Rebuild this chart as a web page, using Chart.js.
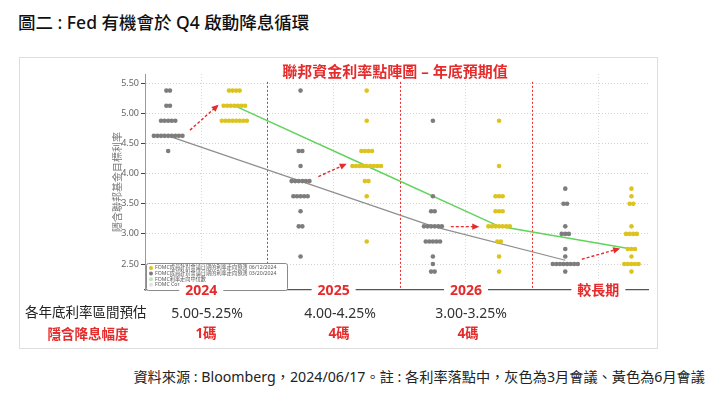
<!DOCTYPE html>
<html>
<head>
<meta charset="utf-8">
<script src="https://cdn.jsdelivr.net/npm/chart.js@4.4.1/dist/chart.umd.min.js"></script>
<style>
  body { margin: 0; background: #fff; font-family: "Noto Sans", "Noto Sans CJK TC", sans-serif; }
  #page { position: relative; width: 725px; height: 401px; overflow: hidden; }
  .txt { position: absolute; white-space: nowrap; line-height: 1; }
  .mid { transform: translate(-50%, -50%); }
  .left { transform: translate(0, -50%); }
  #title { left: 18px; top: 23px; font-size: 17.5px; font-weight: 500; color: #111; }
  #panel { position: absolute; left: 19px; top: 57px; width: 637px; height: 290px; border: 1px solid #dedede; }
  #chartBox { position: absolute; left: 95px; top: 60px; width: 560px; height: 245px; }
  #chartTitle { left: 395px; top: 71px; font-size: 15px; font-weight: 700; color: #e52b2b; }
  .row1 { font-size: 14px; color: #333; }
  .row2 { font-size: 13.5px; color: #e52b2b; font-weight: 700; }
  #source { right: 20px; top: 377px; font-size: 14.2px; color: #222; }
</style>
</head>
<body>
<div id="page">
  <div class="txt left" id="title">圖二 : Fed 有機會於 Q4 啟動降息循環</div>
  <div id="panel"></div>
  <div id="chartBox"><canvas id="dotChart"></canvas></div>
  <div class="txt mid" id="chartTitle">聯邦資金利率點陣圖 – 年底預期值</div>
  <div class="txt left" id="source">資料來源 : Bloomberg，2024/06/17。註 : 各利率落點中，灰色為3月會議、黃色為6月會議</div>
</div>
<script>
const yearLabels = ["2024", "2025", "2026", "較長期"];
const yearPos = [0.5, 2.5, 4.5, 6.5];
const yTicks = [2.5, 3.0, 3.5, 4.0, 4.5, 5.0, 5.5];

// [rate, number of participants]  gray = March meeting, yellow = June meeting
const march2024 = [[5.375, 2], [5.125, 2], [4.875, 5], [4.625, 9], [4.375, 1]];
const march2025 = [[5.375, 1], [4.375, 2], [4.125, 1], [3.875, 6], [3.625, 5], [3.375, 1], [3.125, 2], [2.625, 1]];
const march2026 = [[4.875, 1], [3.625, 1], [3.375, 2], [3.125, 6], [2.875, 5], [2.625, 1], [2.5, 1], [2.375, 2]];
const marchLonger = [[3.75, 1], [3.5, 2], [3.125, 1], [3.0, 3], [2.75, 1], [2.625, 1], [2.5, 8], [2.375, 1]];

const june2024 = [[5.375, 4], [5.125, 7], [4.875, 8]];
const june2025 = [[5.375, 1], [4.875, 1], [4.375, 4], [4.125, 9], [3.875, 2], [3.625, 1], [2.875, 1]];
const june2026 = [[4.875, 1], [4.125, 1], [3.625, 3], [3.375, 3], [3.125, 7], [2.875, 2], [2.625, 1], [2.375, 1]];
const juneLonger = [[3.75, 1], [3.625, 1], [3.5, 2], [3.125, 1], [3.0, 4], [2.75, 3], [2.625, 1], [2.5, 5], [2.375, 1]];

const marchMedian = [4.625, 3.875, 3.125, 2.5625];
const juneMedian = [5.125, 4.125, 3.125, 2.75];

// red dashed arrows, [from, to] in chart units
const arrows = [
  [[0.33, 4.72], [0.74, 5.12]],
  [[2.27, 3.95], [2.67, 4.15]],
  [[4.27, 3.12], [4.67, 3.12]],
  [[6.25, 2.58], [6.8, 2.75]],
];
const separators = [1.5, 3.5, 5.5];

const rangeLabels = ["5.00-5.25%", "4.00-4.25%", "3.00-3.25%"];
const cutLabels = ["1碼", "4碼", "4碼"];
const legendLabels = [
  ["#dcc31e", "FOMC成員針對會議日期的利率走向預測 06/12/2024"],
  ["#7d7d7d", "FOMC成員針對會議日期的利率走向預測 03/20/2024"],
  ["#bfe8b8", "FOMC利率走向中位數"],
  ["#e4e4e4", "FOMC Compar"],
];

const RED = "#e52b2b";
const GRAY = "#7d7d7d";
const YELLOW = "#dcc31e";
const GREEN = "#62d35c";
const DOT_GAP = 0.054;
const FONT = "'Noto Sans', 'Noto Sans CJK TC', sans-serif";

function spreadDots(groups, col) {
  const pts = [];
  groups.forEach(([rate, n]) => {
    for (let i = 0; i < n; i++) {
      pts.push({ x: col + (i - (n - 1) / 2) * DOT_GAP, y: rate });
    }
  });
  return pts;
}

const marchDots = [march2024, march2025, march2026, marchLonger].flatMap((g, i) => spreadDots(g, i * 2));
const juneDots = [june2024, june2025, june2026, juneLonger].flatMap((g, i) => spreadDots(g, i * 2 + 1));

const overlay = {
  id: "overlay",
  // red dotted separators between the years
  beforeDatasetsDraw(chart) {
    const { ctx, chartArea, scales: { x, y } } = chart;
    ctx.save();
    ctx.strokeStyle = RED;
    ctx.lineWidth = 1;
    ctx.setLineDash([2, 2]);
    separators.forEach((v) => {
      const px = Math.round(x.getPixelForValue(v)) + 0.5;
      ctx.beginPath();
      ctx.moveTo(px, y.getPixelForValue(5.52));
      ctx.lineTo(px, chartArea.bottom);
      ctx.stroke();
    });
    ctx.restore();
  },
  // arrow heads
  afterDatasetsDraw(chart) {
    const ctx = chart.ctx;
    chart.data.datasets.forEach((ds, i) => {
      if (!ds.arrow) return;
      const pts = chart.getDatasetMeta(i).data;
      const a = pts[0], b = pts[pts.length - 1];
      const ang = Math.atan2(b.y - a.y, b.x - a.x);
      ctx.save();
      ctx.fillStyle = RED;
      ctx.translate(b.x, b.y);
      ctx.rotate(ang);
      ctx.beginPath();
      ctx.moveTo(2, 0);
      ctx.lineTo(-5, -3.2);
      ctx.lineTo(-5, 3.2);
      ctx.closePath();
      ctx.fill();
      ctx.restore();
    });
  },
  // legend box in the lower left corner, then the year labels sitting on the x axis line
  afterDraw(chart) {
    const { ctx, chartArea, scales: { x } } = chart;
    const lx = chartArea.left + 1, ly = chartArea.bottom - 27, lw = 141, lh = 27;
    ctx.save();
    ctx.fillStyle = "#fff";
    ctx.strokeStyle = "#8a8a8a";
    ctx.lineWidth = 1;
    ctx.beginPath();
    ctx.roundRect(lx + 0.5, ly + 0.5, lw, lh, 2);
    ctx.fill();
    ctx.stroke();
    ctx.font = "5.2px " + FONT;
    ctx.textBaseline = "middle";
    legendLabels.forEach(([c, t], i) => {
      const ry = ly + 5 + i * 5.6;
      ctx.beginPath();
      ctx.arc(lx + 5, ry, 2, 0, Math.PI * 2);
      ctx.fillStyle = c;
      ctx.fill();
      ctx.fillStyle = "#555";
      ctx.fillText(t, lx + 9, ry);
    });

    ctx.font = "bold 14px " + FONT;
    ctx.textAlign = "center";
    yearLabels.forEach((t, i) => {
      const px = x.getPixelForValue(yearPos[i]);
      const w = ctx.measureText(t).width + 12;
      ctx.fillStyle = "#fff";
      ctx.fillRect(px - w / 2, chartArea.bottom - 8, w, 17);
      ctx.fillStyle = RED;
      ctx.fillText(t, px, chartArea.bottom + 1);
    });
    ctx.restore();
  },
};

const ctx = document.getElementById("dotChart").getContext("2d");
new Chart(ctx, {
  type: "scatter",
  data: {
    datasets: [
      { data: juneDots, backgroundColor: YELLOW, borderWidth: 0, pointRadius: 2.3, order: 1 },
      { data: marchDots, backgroundColor: GRAY, borderWidth: 0, pointRadius: 2.3, order: 1 },
      ...arrows.map((a) => ({
        data: a.map(([x, y]) => ({ x, y })),
        showLine: true, borderColor: RED, borderWidth: 1.4, borderDash: [3, 2],
        pointRadius: 0, arrow: true, order: 2,
      })),
      {
        data: juneMedian.map((v, i) => ({ x: i * 2 + 1, y: v })),
        showLine: true, borderColor: GREEN, borderWidth: 1.5, pointRadius: 0, order: 3,
      },
      {
        data: marchMedian.map((v, i) => ({ x: i * 2, y: v })),
        showLine: true, borderColor: "#8e8e8e", borderWidth: 1.2, pointRadius: 0, order: 3,
      },
    ],
  },
  options: {
    responsive: true,
    maintainAspectRatio: false,
    animation: false,
    layout: { padding: { top: 14, right: 7, left: 0, bottom: 15 } },
    plugins: { legend: { display: false }, tooltip: { enabled: false } },
    scales: {
      x: {
        type: "linear",
        min: -0.35,
        max: 7.25,
        afterBuildTicks: (axis) => { axis.ticks = yearPos.map((v) => ({ value: v })); },
        afterFit: (axis) => { axis.height = 0; },
        grid: { color: "#dadada", drawTicks: false },
        border: { color: "#555", width: 1.2, dash: [1, 2] },
        ticks: { display: false },
      },
      y: {
        min: 2.07,
        max: 5.65,
        afterBuildTicks: (axis) => { axis.ticks = yTicks.map((v) => ({ value: v })); },
        afterFit: (axis) => { axis.width = 50; },
        grid: { color: "#d2d2d2", tickColor: "#444", tickLength: 4 },
        border: { color: "#9a9a9a", dash: [1, 2] },
        ticks: { callback: (v) => v.toFixed(2), color: "#666", font: { family: FONT, size: 9 }, padding: 2 },
        title: {
          display: true,
          text: "隱含聯邦基金目標利率",
          color: "#777",
          font: { family: FONT, size: 10 },
          padding: { top: 17, bottom: 0 },
        },
      },
    },
  },
  plugins: [overlay],
});

// rows under the chart
const page = document.getElementById("page");
function addText(cls, text, x, y, extra) {
  const d = document.createElement("div");
  d.className = "txt " + cls;
  d.textContent = text;
  d.style.left = x + "px";
  d.style.top = y + "px";
  if (extra) Object.assign(d.style, extra);
  page.appendChild(d);
}

addText("left row1", "各年底利率區間預估", 25, 313, { fontSize: "13.5px", color: "#222" });
addText("mid row2", "隱含降息幅度", 88, 335);
const rangeX = [207, 340, 471];
const cutX = [206, 339, 468];
rangeLabels.forEach((t, i) => addText("mid row1", t, rangeX[i], 313));
cutLabels.forEach((t, i) => addText("mid row2", t, cutX[i], 334));
</script>
</body>
</html>
